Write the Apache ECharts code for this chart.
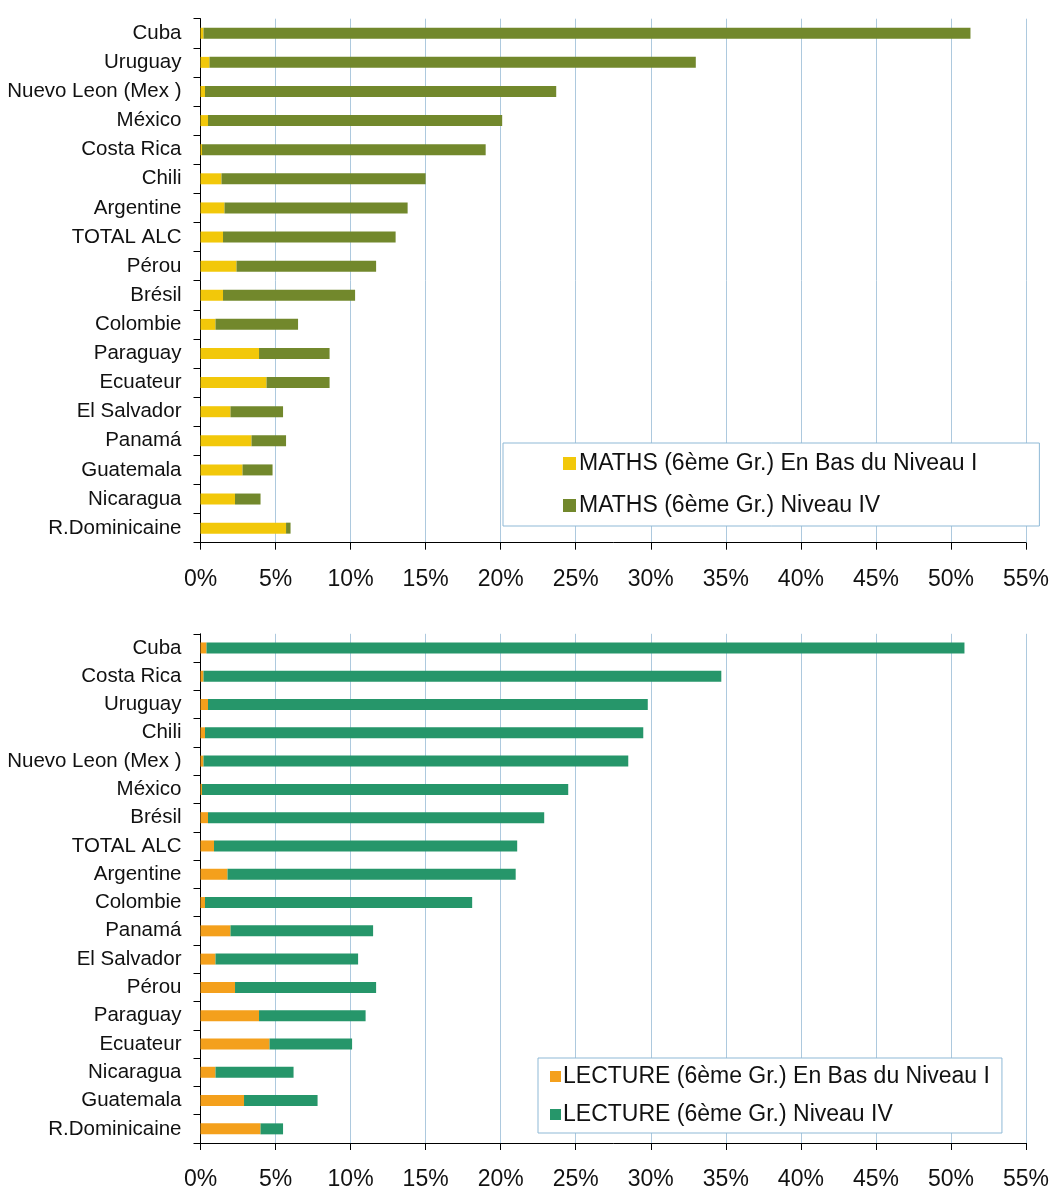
<!DOCTYPE html>
<html>
<head>
<meta charset="utf-8">
<script src="https://cdn.jsdelivr.net/npm/echarts@6/dist/echarts.min.js"></script>
<style>
  html, body { margin: 0; padding: 0; background: #fff; }
  #chart { width: 1053px; height: 1191px; }
</style>
</head>
<body>
<div id="chart"></div>
<script>
// MATHS (top panel), values in %
const mathsCountries = ["Cuba", "Uruguay", "Nuevo Leon (Mex )", "México", "Costa Rica", "Chili", "Argentine", "TOTAL ALC", "Pérou", "Brésil", "Colombie", "Paraguay", "Ecuateur", "El Salvador", "Panamá", "Guatemala", "Nicaragua", "R.Dominicaine"];
const mathsBelowI = [0.2, 0.6, 0.3, 0.5, 0.1, 1.4, 1.6, 1.5, 2.4, 1.5, 1.0, 3.9, 4.4, 2.0, 3.4, 2.8, 2.3, 5.7];
const mathsLevelIV = [51.1, 32.4, 23.4, 19.6, 18.9, 13.6, 12.2, 11.5, 9.3, 8.8, 5.5, 4.7, 4.2, 3.5, 2.3, 2.0, 1.7, 0.3];

// LECTURE (bottom panel), values in %
const lectureCountries = ["Cuba", "Costa Rica", "Uruguay", "Chili", "Nuevo Leon (Mex )", "México", "Brésil", "TOTAL ALC", "Argentine", "Colombie", "Panamá", "El Salvador", "Pérou", "Paraguay", "Ecuateur", "Nicaragua", "Guatemala", "R.Dominicaine"];
const lectureBelowI = [0.4, 0.2, 0.5, 0.3, 0.2, 0.1, 0.5, 0.9, 1.8, 0.3, 2.0, 1.0, 2.3, 3.9, 4.6, 1.0, 2.9, 4.0];
const lectureLevelIV = [50.5, 34.5, 29.3, 29.2, 28.3, 24.4, 22.4, 20.2, 19.2, 17.8, 9.5, 9.5, 9.4, 7.1, 5.5, 5.2, 4.9, 1.5];

const seriesNames = [
  "MATHS (6ème Gr.) En Bas du Niveau I",
  "MATHS (6ème Gr.) Niveau IV",
  "LECTURE (6ème Gr.) En Bas du Niveau I",
  "LECTURE (6ème Gr.) Niveau IV",
];

const font = "Arial, 'Liberation Sans', sans-serif";
const gridColor = "#adc9de";

function valueAxis(gridIndex) {
  return {
    type: "value",
    gridIndex,
    min: 0,
    max: 55,
    interval: 5,
    axisLine: { show: true, lineStyle: { color: "#000", width: 1 } },
    axisTick: { show: true, length: 7, lineStyle: { color: "#000" } },
    axisLabel: { formatter: "{value}%", color: "#111", fontSize: 23, fontFamily: font, margin: 25 },
    splitLine: { show: true, lineStyle: { color: gridColor, width: 1 } },
  };
}

function categoryAxis(gridIndex, data) {
  return {
    type: "category",
    gridIndex,
    inverse: true,
    data,
    axisLine: { show: true, lineStyle: { color: "#000", width: 1 } },
    axisTick: { show: true, length: 7, lineStyle: { color: "#000" } },
    axisLabel: { color: "#111", fontSize: 20.5, fontFamily: font, margin: 19 },
    splitLine: { show: false },
  };
}

function bar(name, data, color, axisIndex) {
  return {
    name,
    type: "bar",
    stack: "s" + axisIndex,
    xAxisIndex: axisIndex,
    yAxisIndex: axisIndex,
    barWidth: 11,
    itemStyle: { color },
    data,
  };
}

const chart = echarts.init(document.getElementById("chart"));
chart.setOption({
  animation: false,
  backgroundColor: "#fff",
  grid: [
    { left: 200.5, right: 27, top: 18.7, height: 524 },
    { left: 200.5, right: 27, top: 633.8, height: 509.5 },
  ],
  xAxis: [valueAxis(0), valueAxis(1)],
  yAxis: [categoryAxis(0, mathsCountries), categoryAxis(1, lectureCountries)],
  legend: [
    {
      data: [seriesNames[0], seriesNames[1]],
      orient: "vertical",
      left: 503,
      top: 443,
      padding: [9, 62, 9, 60],
      itemGap: 19,
      itemWidth: 13,
      itemHeight: 13,
      icon: "rect",
      borderColor: "#8fb9d6",
      borderWidth: 1,
      backgroundColor: "#fff",
      textStyle: { fontSize: 23, fontFamily: font, color: "#111", padding: [0, 0, 0, -2] },
    },
    {
      data: [seriesNames[2], seriesNames[3]],
      orient: "vertical",
      left: 538,
      top: 1058,
      padding: [7, 12, 7, 12],
      itemGap: 15,
      itemWidth: 11,
      itemHeight: 11,
      icon: "rect",
      borderColor: "#8fb9d6",
      borderWidth: 1,
      backgroundColor: "#fff",
      textStyle: { fontSize: 23, fontFamily: font, color: "#111", padding: [0, 0, 0, -3] },
    },
  ],
  series: [
    bar(seriesNames[0], mathsBelowI, "#f2c80a", 0),
    bar(seriesNames[1], mathsLevelIV, "#72882c", 0),
    bar(seriesNames[2], lectureBelowI, "#f4a01c", 1),
    bar(seriesNames[3], lectureLevelIV, "#26966a", 1),
  ],
});
</script>
</body>
</html>
